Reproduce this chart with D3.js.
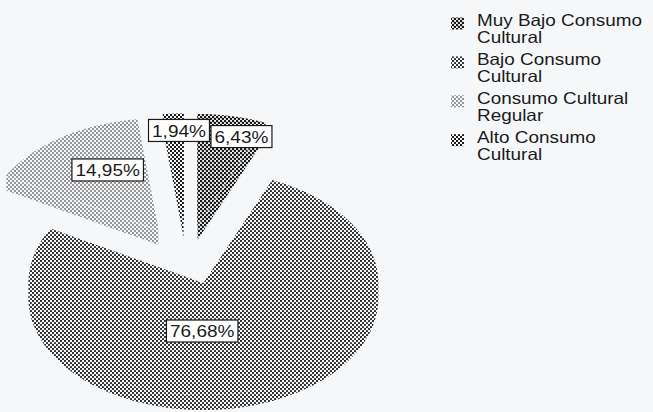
<!DOCTYPE html>
<html>
<head>
<meta charset="utf-8">
<script src="https://cdn.jsdelivr.net/npm/d3@7"></script>
<style>
  html, body { margin: 0; padding: 0; background: #f5f7f9; }
  svg { display: block; }
  text { font-family: "Liberation Sans", Arial, Helvetica, sans-serif; fill: #1b1b1b; }
</style>
</head>
<body>
<svg id="chart" width="653" height="412"></svg>
<script>
// Categories in the order the pie is drawn (clockwise from 12 o'clock)
const categories = [
  "Muy Bajo Consumo Cultural",
  "Bajo Consumo Cultural",
  "Consumo Cultural Regular",
  "Alto Consumo Cultural"
];
// Legend text, split the way it wraps
const legendLines = [
  ["Muy Bajo Consumo", "Cultural"],
  ["Bajo Consumo", "Cultural"],
  ["Consumo Cultural", "Regular"],
  ["Alto Consumo", "Cultural"]
];
// Share of respondents, percent
const shares = [6.43, 76.68, 14.95, 1.94];

// ---- layout ----
const W = 653, H = 412;
const center = { x: 187, y: 255 };
const rx = 175, ry = 112, depth = 15;     // tilted pie: ellipse radii and thickness
const explodeX = 0.29, explodeY = 0.265;  // how far every slice is pulled out
// label spot per slice: [angle in degrees, fraction of radius] from the slice tip
const labelSpots = [[17.6, 0.837], [180.9, 0.428], [331.6, 0.613], [358.1, 0.848]];
const fontSize = 17, stretch = 1.12;
const legendFont = 16.3, legendStretch = 1.16, legendLead = 17;
const paper = "#f5f7f9", ink = "#1b1b1b";

const svg = d3.select("#chart");
svg.append("rect").attr("width", W).attr("height", H).attr("fill", paper);

// ---- dot-screen fills ----
const defs = svg.append("defs");
function addPattern(id, draw) {
  const p = defs.append("pattern")
    .attr("id", id).attr("patternUnits", "userSpaceOnUse")
    .attr("width", 4).attr("height", 4);
  p.append("rect").attr("width", 4).attr("height", 4).attr("fill", paper);
  draw(p);
}
function dots(p, r) {
  p.append("circle").attr("cx", 1).attr("cy", 1).attr("r", r).attr("fill", ink);
  p.append("circle").attr("cx", 3).attr("cy", 3).attr("r", r).attr("fill", ink);
}
addPattern("fill-0", p => dots(p, 1.3));
addPattern("fill-1", p => dots(p, 1.08));
addPattern("fill-2", p => dots(p, 0.8));
addPattern("fill-3", p => {
  p.append("rect").attr("x", 0).attr("y", 0).attr("width", 2).attr("height", 2).attr("fill", ink);
  p.append("rect").attr("x", 2).attr("y", 2).attr("width", 2).attr("height", 2).attr("fill", ink);
});
const fillOf = i => `url(#fill-${i})`;

// ---- pie geometry ----
const pie = d3.pie().sort(null).value(d => d).startAngle(0).endAngle(2 * Math.PI);
const slices = pie(shares).map((d, i) => {
  const mid = (d.startAngle + d.endAngle) / 2;
  return {
    i, s: d.startAngle, e: d.endAngle, mid, value: d.value,
    ax: center.x + explodeX * rx * Math.sin(mid),
    ay: center.y - explodeY * ry * Math.cos(mid)
  };
});

const rim = (sl, a, dy = 0) => [sl.ax + rx * Math.sin(a), sl.ay - ry * Math.cos(a) + dy];
function arcPts(sl, a0, a1, dy = 0) {
  const n = Math.max(2, Math.ceil((a1 - a0) / (Math.PI / 180)));
  return d3.range(n + 1).map(k => rim(sl, a0 + (a1 - a0) * k / n, dy));
}
const poly = d3.line().curve(d3.curveLinearClosed);

const pieG = svg.append("g");
// back slices first
const order = slices.slice().sort((a, b) => Math.cos(b.mid) - Math.cos(a.mid));
order.forEach(sl => {
  const g = pieG.append("g");
  // radial side faces turned toward the viewer
  const faces = [];
  if (Math.sin(sl.s) < -1e-6) faces.push(sl.s);
  if (Math.sin(sl.e) > 1e-6) faces.push(sl.e);
  faces.forEach(a => {
    const o = rim(sl, a);
    g.append("path")
      .attr("d", poly([[sl.ax, sl.ay], o, [o[0], o[1] + depth], [sl.ax, sl.ay + depth]]))
      .attr("fill", fillOf(sl.i))
      .attr("stroke", paper).attr("stroke-width", 0.7);
  });
  // front rim wall
  const a0 = Math.max(sl.s, Math.PI / 2), a1 = Math.min(sl.e, 3 * Math.PI / 2);
  if (a1 > a0) {
    const top = arcPts(sl, a0, a1), bot = arcPts(sl, a0, a1, depth).reverse();
    g.append("path").attr("d", poly(top.concat(bot))).attr("fill", fillOf(sl.i));
  }
  // top face
  g.append("path")
    .attr("d", poly([[sl.ax, sl.ay]].concat(arcPts(sl, sl.s, sl.e))))
    .attr("fill", fillOf(sl.i));
});

// ---- value labels ----
const fmt = v => d3.format(".2f")(v).replace(".", ",") + "%";
const labelG = svg.append("g");
slices.forEach(sl => {
  const [deg, f] = labelSpots[sl.i];
  const t = deg * Math.PI / 180;
  const lx = sl.ax + f * rx * Math.sin(t), ly = sl.ay - f * ry * Math.cos(t);
  const g = labelG.append("g").attr("transform", `translate(${lx},${ly})`);
  const box = g.append("rect");
  const txt = g.append("text")
    .attr("transform", `scale(${stretch},1)`)
    .attr("text-anchor", "middle")
    .attr("y", 0.716 * fontSize / 2)
    .attr("font-size", fontSize)
    .text(fmt(sl.value));
  const w = txt.node().getComputedTextLength() * stretch + 7, h = 22;
  box.attr("x", -w / 2).attr("y", -h / 2).attr("width", w).attr("height", h)
    .attr("fill", "#ffffff").attr("stroke", ink).attr("stroke-width", 1.2);
});

// ---- legend ----
const legendY = d3.scaleLinear().domain([0, 1]).range([26, 64.9]);
const legend = svg.append("g");
categories.forEach((c, i) => {
  const base = legendY(i);
  legend.append("rect")
    .attr("x", 451).attr("y", base - 8.5).attr("width", 13).attr("height", 12)
    .attr("fill", fillOf(i));
  legendLines[i].forEach((line, j) => {
    legend.append("text")
      .attr("transform", `translate(477,${base + j * legendLead}) scale(${legendStretch},1)`)
      .attr("font-size", legendFont)
      .text(line);
  });
});
</script>
</body>
</html>
